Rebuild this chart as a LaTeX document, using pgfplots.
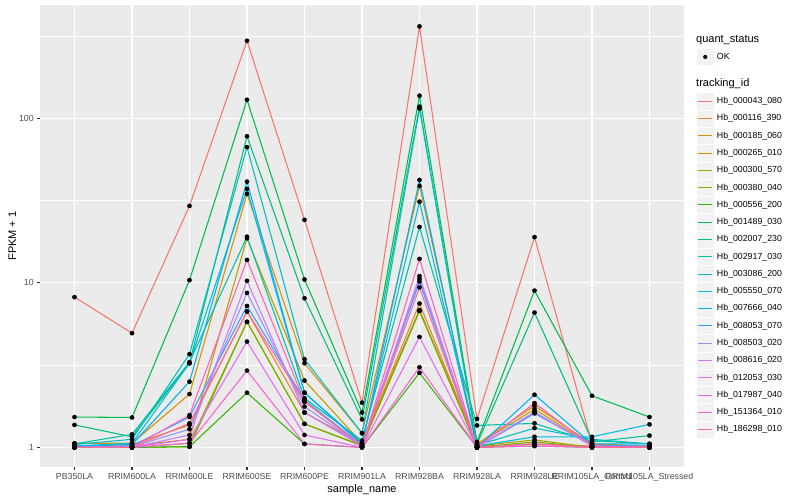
\documentclass[border=0pt]{standalone}
\usepackage{pgfplots}
\usepackage{pgfplotstable}
\pgfplotsset{compat=1.18}
\usepackage{fontspec}
\setmainfont{Liberation Sans}
\definecolor{panel}{HTML}{EBEBEB}
\definecolor{keybg}{HTML}{F2F2F2}
\definecolor{labc}{HTML}{4D4D4D}
\definecolor{tickc}{HTML}{333333}
\definecolor{c1}{HTML}{F8766D}
\definecolor{c2}{HTML}{EA8331}
\definecolor{c3}{HTML}{D89000}
\definecolor{c4}{HTML}{C09B00}
\definecolor{c5}{HTML}{A3A500}
\definecolor{c6}{HTML}{7CAE00}
\definecolor{c7}{HTML}{39B600}
\definecolor{c8}{HTML}{00BB4E}
\definecolor{c9}{HTML}{00BF7D}
\definecolor{c10}{HTML}{00C1A3}
\definecolor{c11}{HTML}{00BFC4}
\definecolor{c12}{HTML}{00BAE0}
\definecolor{c13}{HTML}{00B0F6}
\definecolor{c14}{HTML}{35A2FF}
\definecolor{c15}{HTML}{9590FF}
\definecolor{c16}{HTML}{C77CFF}
\definecolor{c17}{HTML}{E76BF3}
\definecolor{c18}{HTML}{FA62DB}
\definecolor{c19}{HTML}{FF62BC}
\definecolor{c20}{HTML}{FF6C91}
\pgfplotstableread{
x s1 s2 s3 s4 s5 s6 s7 s8 s9 s10 s11 s12 s13 s14 s15 s16 s17 s18 s19 s20
0 8.2 1.01 1.06 1.0 1.0 1.0 1.0 1.53 1.37 1.05 1.04 1.02 1.02 1.0 1.0 1.0 1.0 1.0 1.0 1.0
1 4.95 1.04 1.06 1.02 1.0 1.0 1.0 1.52 1.16 1.2 1.12 1.06 1.04 1.02 1.01 1.0 1.0 1.0 1.0 1.0
2 29.4 1.37 2.11 1.12 1.06 1.01 1.01 10.4 3.25 3.3 3.69 3.25 2.51 1.53 1.29 1.19 1.12 1.06 1.57 1.40
3 297 6.7 34.8 18.7 5.8 5.8 2.15 130 78 19.1 67 37.3 41.3 7.25 8.7 10.3 4.4 2.93 13.8 6.7
4 24.2 1.63 3.25 2.55 1.39 1.39 1.05 10.5 8.07 1.99 3.44 2.15 2.15 1.94 1.77 1.63 1.19 1.05 1.90 1.90
5 1.87 1.05 1.22 1.06 1.03 1.02 1.0 1.63 1.48 1.1 1.22 1.06 1.04 1.03 1.02 1.02 1.0 1.0 1.02 1.02
6 363 7.5 38.9 6.85 6.76 6.76 2.84 137.6 118 21.9 115 31.2 42.3 10.2 10.6 11.0 4.7 3.07 14.0 9.4
7 1.49 1.02 1.05 1.03 1.02 1.0 1.0 1.08 1.05 1.36 1.03 1.02 1.0 1.0 1.0 1.0 1.0 1.0 1.0 1.0
8 19.0 1.05 1.79 1.71 1.11 1.08 1.02 8.98 6.6 1.40 1.31 1.16 2.09 1.61 1.64 1.64 1.05 1.02 1.86 1.05
9 1.05 1.02 1.05 1.03 1.0 1.0 1.0 2.06 1.1 1.08 1.12 1.16 1.05 1.03 1.02 1.02 1.0 1.0 1.02 1.0
10 1.01 1.0 1.02 1.0 1.0 1.0 1.0 1.53 1.05 1.18 1.05 1.38 1.05 1.02 1.0 1.0 1.0 1.0 1.0 1.0
}\datatable
\begin{document}
\begin{tikzpicture}
\path[use as bounding box] (0,0) rectangle (800bp,500bp);
\begin{axis}[
  at={(40bp,33bp)}, anchor=south west,
  scale only axis, width=644bp, height=462bp,
  xmin=-0.6, xmax=10.6,
  ymode=log, ymin=0.76, ymax=490,
  axis background/.style={fill=panel},
  axis lines*=left, axis line style={draw=none},
  xtick={0,1,2,3,4,5,6,7,8,9,10},
  xticklabels={PB350LA,RRIM600LA,RRIM600LE,RRIM600SE,RRIM600PE,RRIM901LA,RRIM928BA,RRIM928LA,RRIM928LE,RRIM105LA\_Control,RRIM105LA\_Stressed},
  ytick={1,10,100}, yticklabels={1,10,100},
  minor ytick={3.1623,31.623,316.23},
  grid=both,
  major grid style={white, line width=1.07bp},
  minor grid style={white, line width=0.53bp},
  tick align=outside,
  major tick length=2.74bp, minor tick length=0bp,
  major tick style={color=tickc, line width=1.07bp},
  minor tick style={draw=none},
  tick label style={font=\fontsize{8.8bp}{10bp}\selectfont, color=labc},
  /pgf/number format/assume math mode=true,
  xlabel={sample\_name}, ylabel={FPKM + 1},
  label style={font=\fontsize{11bp}{13bp}\selectfont, color=black},
  xlabel style={yshift=4bp},
  ylabel style={yshift=-4bp},
  clip=false,
]
\pgfplotsinvokeforeach{1,...,20}{
  \addplot[color=c#1, line width=1.07bp, mark=none] table[x=x, y=s#1]{\datatable};
}
\pgfplotsinvokeforeach{1,...,20}{
  \addplot[only marks, mark=*, mark size=2.1bp, color=black] table[x=x, y=s#1]{\datatable};
}
\end{axis}
% legend: quant_status
\node[anchor=west, inner sep=0pt, font=\fontsize{11bp}{13bp}\selectfont] at (696bp,460bp) {quant\_status};
\filldraw[fill=keybg, draw=white, line width=0.5bp] (696.6bp,434.4bp) rectangle (713.9bp,451.7bp);
\fill[black] (705.25bp,443.05bp) circle (2.1bp);
\node[anchor=west, inner sep=0pt, font=\fontsize{8.8bp}{10bp}\selectfont] at (716.7bp,443.05bp) {OK};
% legend: tracking_id
\node[anchor=west, inner sep=0pt, font=\fontsize{11bp}{13bp}\selectfont] at (696bp,416bp) {tracking\_id};
\foreach \i/\n in {1/000043\_080,2/000116\_390,3/000185\_060,4/000265\_010,5/000300\_570,6/000380\_040,7/000556\_200,8/001489\_030,9/002007\_230,10/002917\_030,11/003086\_200,12/005550\_070,13/007666\_040,14/008053\_070,15/008503\_020,16/008616\_020,17/012053\_030,18/017987\_040,19/151364\_010,20/186298\_010}{
  \pgfmathsetmacro\yy{500-101.3-(\i-1)*17.28}
  \pgfmathsetmacro\yl{floor(\yy)+0.5}
  \filldraw[fill=keybg, draw=white, line width=0.5bp] (696.6bp,\yy bp-8.64bp) rectangle (713.9bp,\yy bp+8.64bp);
  \draw[c\i, line width=1.07bp] (698.3bp,\yl bp) -- (712.2bp,\yl bp);
  \node[anchor=west, inner sep=0pt, font=\fontsize{8.8bp}{10bp}\selectfont] at (716.7bp,\yy bp) {Hb\_\n};
}
\end{tikzpicture}
\end{document}
